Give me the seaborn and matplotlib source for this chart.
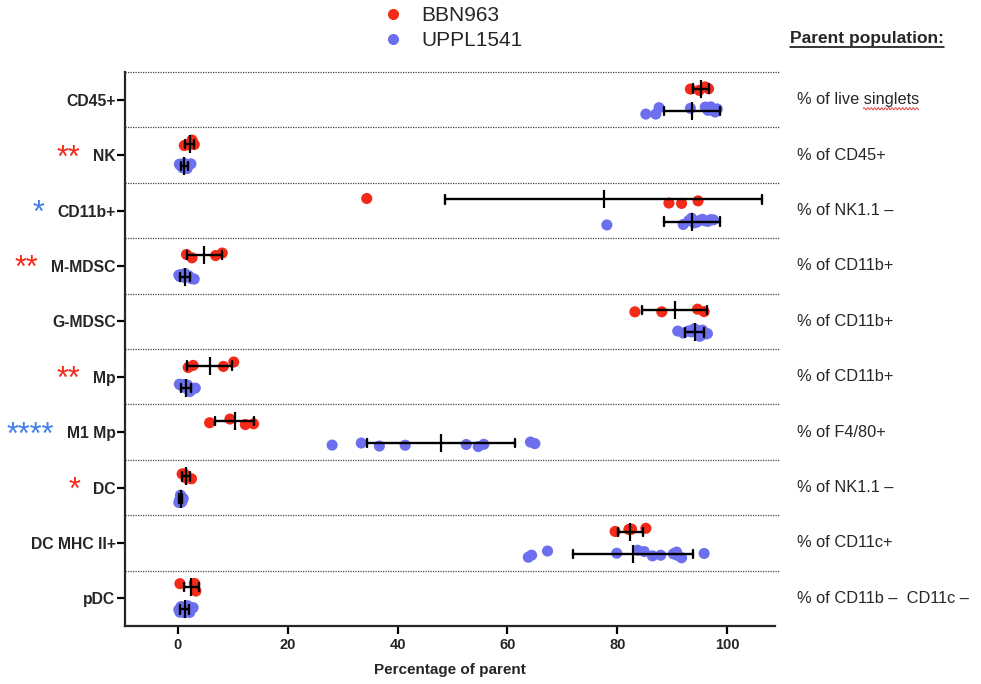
import numpy as np
import pandas as pd
import matplotlib
matplotlib.use("Agg")
import matplotlib.pyplot as plt
import matplotlib.transforms as mtransforms
import seaborn as sns

# ---------------- data ----------------
categories = ["CD45+", "NK", "CD11b+", "M-MDSC", "G-MDSC", "Mp", "M1 Mp", "DC",
              "DC MHC II+", "pDC"]
parent_labels = ["% of live singlets", "% of CD45+", "% of NK1.1 \u2013", "% of CD11b+",
                 "% of CD11b+", "% of CD11b+", "% of F4/80+", "% of NK1.1 \u2013",
                 "% of CD11c+", "% of CD11b \u2013  CD11c \u2013"]
groups = ["BBN963", "UPPL1541"]

bbn963 = [
    [93.3, 94.9, 96.0, 96.6],
    [1.2, 1.9, 2.6, 3.0],
    [34.4, 89.4, 91.7, 94.7],
    [1.6, 2.6, 6.9, 8.1],
    [83.2, 88.1, 94.6, 95.8],
    [1.9, 2.8, 8.3, 10.2],
    [5.8, 9.5, 12.3, 13.8],
    [0.8, 1.2, 1.6, 2.5],
    [79.6, 82.1, 82.6, 85.2],
    [0.4, 3.0, 3.1, 3.3],
]
uppl1541 = [
    [85.2, 87.0, 87.6, 93.3, 96.0, 96.5, 97.0, 97.3, 97.8, 98.2],
    [0.3, 0.5, 0.7, 0.9, 1.0, 1.2, 1.4, 1.7, 2.0, 2.4],
    [78.1, 92.0, 93.0, 93.5, 94.0, 94.5, 95.0, 95.5, 96.0, 96.5, 97.0, 97.5],
    [0.2, 0.4, 0.6, 0.8, 1.0, 1.3, 1.6, 2.0, 2.5, 3.0],
    [91.0, 92.0, 93.0, 93.5, 94.0, 94.5, 95.0, 95.5, 96.0, 96.4],
    [0.3, 0.6, 0.9, 1.1, 1.3, 1.5, 1.8, 2.2, 2.6, 3.2],
    [28.1, 33.4, 36.7, 41.4, 52.5, 54.7, 55.7, 64.2, 65.0],
    [0.2, 0.3, 0.4, 0.5, 0.6, 0.7, 0.8, 1.0],
    [63.8, 64.4, 67.3, 79.9, 83.7, 84.9, 86.4, 87.9, 90.2, 90.8, 90.9, 91.7, 95.8],
    [0.2, 0.4, 0.6, 0.8, 1.0, 1.2, 1.5, 1.8, 2.2, 2.8],
]
significance = {"NK": ("**", "red"), "CD11b+": ("*", "blue"), "M-MDSC": ("**", "red"),
                "Mp": ("**", "red"), "M1 Mp": ("****", "blue"), "DC": ("*", "red")}
x_ticks = [0, 20, 40, 60, 80, 100]

rows = []
for cat, vals in zip(categories, bbn963):
    for v in vals:
        rows.append((cat, "BBN963", v))
for cat, vals in zip(categories, uppl1541):
    for v in vals:
        rows.append((cat, "UPPL1541", v))
df = pd.DataFrame(rows, columns=["population", "group", "value"])

# ---------------- style ----------------
RED = "#F22A17"
BLUE = "#6C70EE"
STAR_BLUE = "#3F7EE8"
sns.set_style("ticks")
plt.rcParams["font.family"] = ["Liberation Sans", "DejaVu Sans"]

fig = plt.figure(figsize=(9.81, 6.84), dpi=100)
ax = fig.add_axes([0.1274, 0.0848, 0.6626, 0.8099])

np.random.seed(3)
sns.stripplot(data=df, x="value", y="population", hue="group", order=categories,
              hue_order=groups, palette=[RED, BLUE], dodge=True, jitter=0.15,
              size=8, linewidth=0, ax=ax, zorder=3)
sns.pointplot(data=df, x="value", y="population", hue="group", order=categories,
              hue_order=groups, palette=["black", "black"], dodge=0.4,
              errorbar="sd", capsize=0.15, linestyle="none", marker="|",
              markersize=13, markeredgewidth=1.6, err_kws={"linewidth": 1.7},
              legend=False, ax=ax, zorder=4)

ax.set_xlim(-9.6, 108.7)
ax.set_ylim(len(categories) - 0.5, -0.5)
ax.set_xticks(x_ticks)
ax.set_xticklabels([str(t) for t in x_ticks], fontsize=10.5, fontweight="bold")
ax.set_yticks(range(len(categories)))
ax.set_yticklabels(categories, fontsize=11.3, fontweight="bold")
ax.set_xlabel("Percentage of parent", fontsize=11, fontweight="bold", labelpad=8)
ax.set_ylabel("")
for s in ["top", "right"]:
    ax.spines[s].set_visible(False)
for s in ["left", "bottom"]:
    ax.spines[s].set_linewidth(1.6)
ax.tick_params(axis="both", width=1.6, length=5.5, color="black")
ax.tick_params(axis="y", pad=1.2)
ax.tick_params(axis="x", pad=3)

for k in range(len(categories)):
    ax.plot([0, 1.008], [k - 0.5, k - 0.5], transform=mtransforms.blended_transform_factory(ax.transAxes, ax.transData),
            color="#444444", linewidth=0.9, linestyle=(0, (1, 1)), clip_on=False, zorder=1)

# legend
handles, labels = ax.get_legend_handles_labels()
leg = ax.legend(handles[:2], labels[:2], loc="center", bbox_to_anchor=(0.456, 0.959),
                bbox_transform=fig.transFigure, frameon=False, fontsize=15,
                handletextpad=0.4, labelspacing=0.3, markerscale=1.0)

# parent population labels
trans_right = mtransforms.blended_transform_factory(fig.transFigure, ax.transData)
parent_texts = []
for k, lab in enumerate(parent_labels):
    parent_texts.append(ax.text(0.812, k, lab, transform=trans_right, fontsize=11.8,
                                va="center", ha="left"))
title = fig.text(0.805, 0.944, "Parent population:", fontsize=12.5, fontweight="bold",
                 va="center", ha="left")

fig.canvas.draw()
renderer = fig.canvas.get_renderer()
inv = fig.transFigure.inverted()
bb = title.get_window_extent(renderer).transformed(inv)
fig.add_artist(plt.Line2D([bb.x0, bb.x1], [bb.y0 - 0.002, bb.y0 - 0.002],
                          transform=fig.transFigure, color="black", linewidth=1.1))

# spell-check squiggle under "singlets"
t0 = parent_texts[0]
full = t0.get_window_extent(renderer)
tmp = fig.text(0, 0, "% of live ", fontsize=11.8)
pre_w = tmp.get_window_extent(renderer).width
tmp.remove()
xs = np.linspace(full.x0 + pre_w, full.x1, 80)
ys = full.y0 - 1.5 + 1.2 * np.sin((xs - xs[0]) * 2 * np.pi / 3.5)
pts = inv.transform(np.column_stack([xs, ys]))
fig.add_artist(plt.Line2D(pts[:, 0], pts[:, 1], transform=fig.transFigure,
                          color="#E03030", linewidth=0.6))

# significance stars left of tick labels
for lbl in ax.get_yticklabels():
    name = lbl.get_text()
    if name in significance:
        stars, col = significance[name]
        ext = lbl.get_window_extent(renderer)
        x0 = inv.transform((ext.x0 - 13, 0))[0]
        k = categories.index(name)
        ax.annotate(stars, xy=(x0, k), xycoords=trans_right, xytext=(0, -2.5),
                    textcoords="offset points", fontsize=22, fontweight="normal",
                    color=RED if col == "red" else STAR_BLUE, ha="right", va="center")

fig.savefig("out.png", dpi=100)
